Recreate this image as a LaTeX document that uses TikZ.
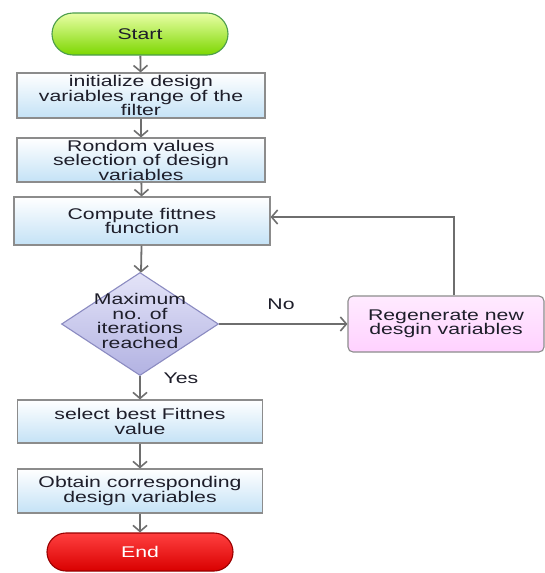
\documentclass[tikz,border=0pt]{standalone}
\usepackage{fontspec}
\setmainfont{Liberation Sans}[FakeStretch=1.37]
\usetikzlibrary{arrows.meta,shapes.geometric,shapes.misc}
\definecolor{txt}{HTML}{1E1E2A}
\definecolor{conn}{HTML}{6E6E6E}
\definecolor{bord}{HTML}{8C8C8C}
\definecolor{boxbot}{HTML}{C4E2F6}
\definecolor{diatop}{HTML}{E4E4F8}
\definecolor{diabot}{HTML}{B2B2E2}
\begin{document}
\begin{tikzpicture}[x=1pt,y=-1pt,
  every node/.style={font=\fontsize{15.5}{14.5}\selectfont, text=txt, align=center, inner sep=0pt},
  procbox/.style={draw=bord, line width=1.1pt, top color=white, bottom color=boxbot, rectangle},
  term/.style={rounded rectangle, line width=1.1pt},
  conn/.style={draw=conn, line width=1.8pt, -{Straight Barb[length=6pt,width=14pt,line width=1.6pt]}},
  lbl/.style={text=txt}
]
\useasboundingbox (0,0) rectangle (545,573);
\node[term, draw=green!45!black!70, top color=green!25!yellow!35, bottom color=green!55!black!35!lime, minimum width=176, minimum height=42] (start) at (140,34) {Start};
\node[procbox, minimum width=248, minimum height=45] (b1) at (141,95.5) {initialize design\\variables range of the\\filter};
\node[procbox, minimum width=248, minimum height=44] (b2) at (141,160) {Rondom values\\selection of design\\variables};
\node[procbox, minimum width=256, minimum height=48] (b3) at (142,221) {Compute fittnes\\function};
\node[diamond, draw=blue!30!gray!70, line width=1.1pt, top color=diatop, bottom color=diabot, minimum width=157, minimum height=103] (dia) at (140,324) {};
\node (diatext) at (140,321) {Maximum\\no. of\\iterations\\reached};
\node[draw=bord, line width=1.1pt, rounded corners=5pt, top color=magenta!8, bottom color=magenta!18, minimum width=196, minimum height=56] (regen) at (446,324) {Regenerate new\\desgin variables};
\node[procbox, minimum width=245, minimum height=43] (b4) at (140,421.5) {select best Fittnes\\value};
\node[procbox, minimum width=245, minimum height=44] (b5) at (140,491) {Obtain corresponding\\design variables};
\node[term, draw=red!60!black, top color=red!75, bottom color=red!85!black, minimum width=186, minimum height=38, text=white] (end) at (140,552) {End};
\coordinate (loopup) at (454,217);
\draw[conn] (start) -- (b1);
\draw[conn] (b1) -- (b2);
\draw[conn] (b2) -- (b3);
\draw[conn] (b3) -- (dia);
\draw[conn] (dia.east) -- (regen.west);
\draw[conn] (regen.north -| loopup) -- (loopup) -- (b3.east |- loopup);
\draw[conn] (dia) -- (b4);
\draw[conn] (b4) -- (b5);
\draw[conn] (b5) -- (end);
\node[lbl] (no) at (281,304) {No};
\node[lbl] (yes) at (181,378) {Yes};
\end{tikzpicture}
\end{document}
